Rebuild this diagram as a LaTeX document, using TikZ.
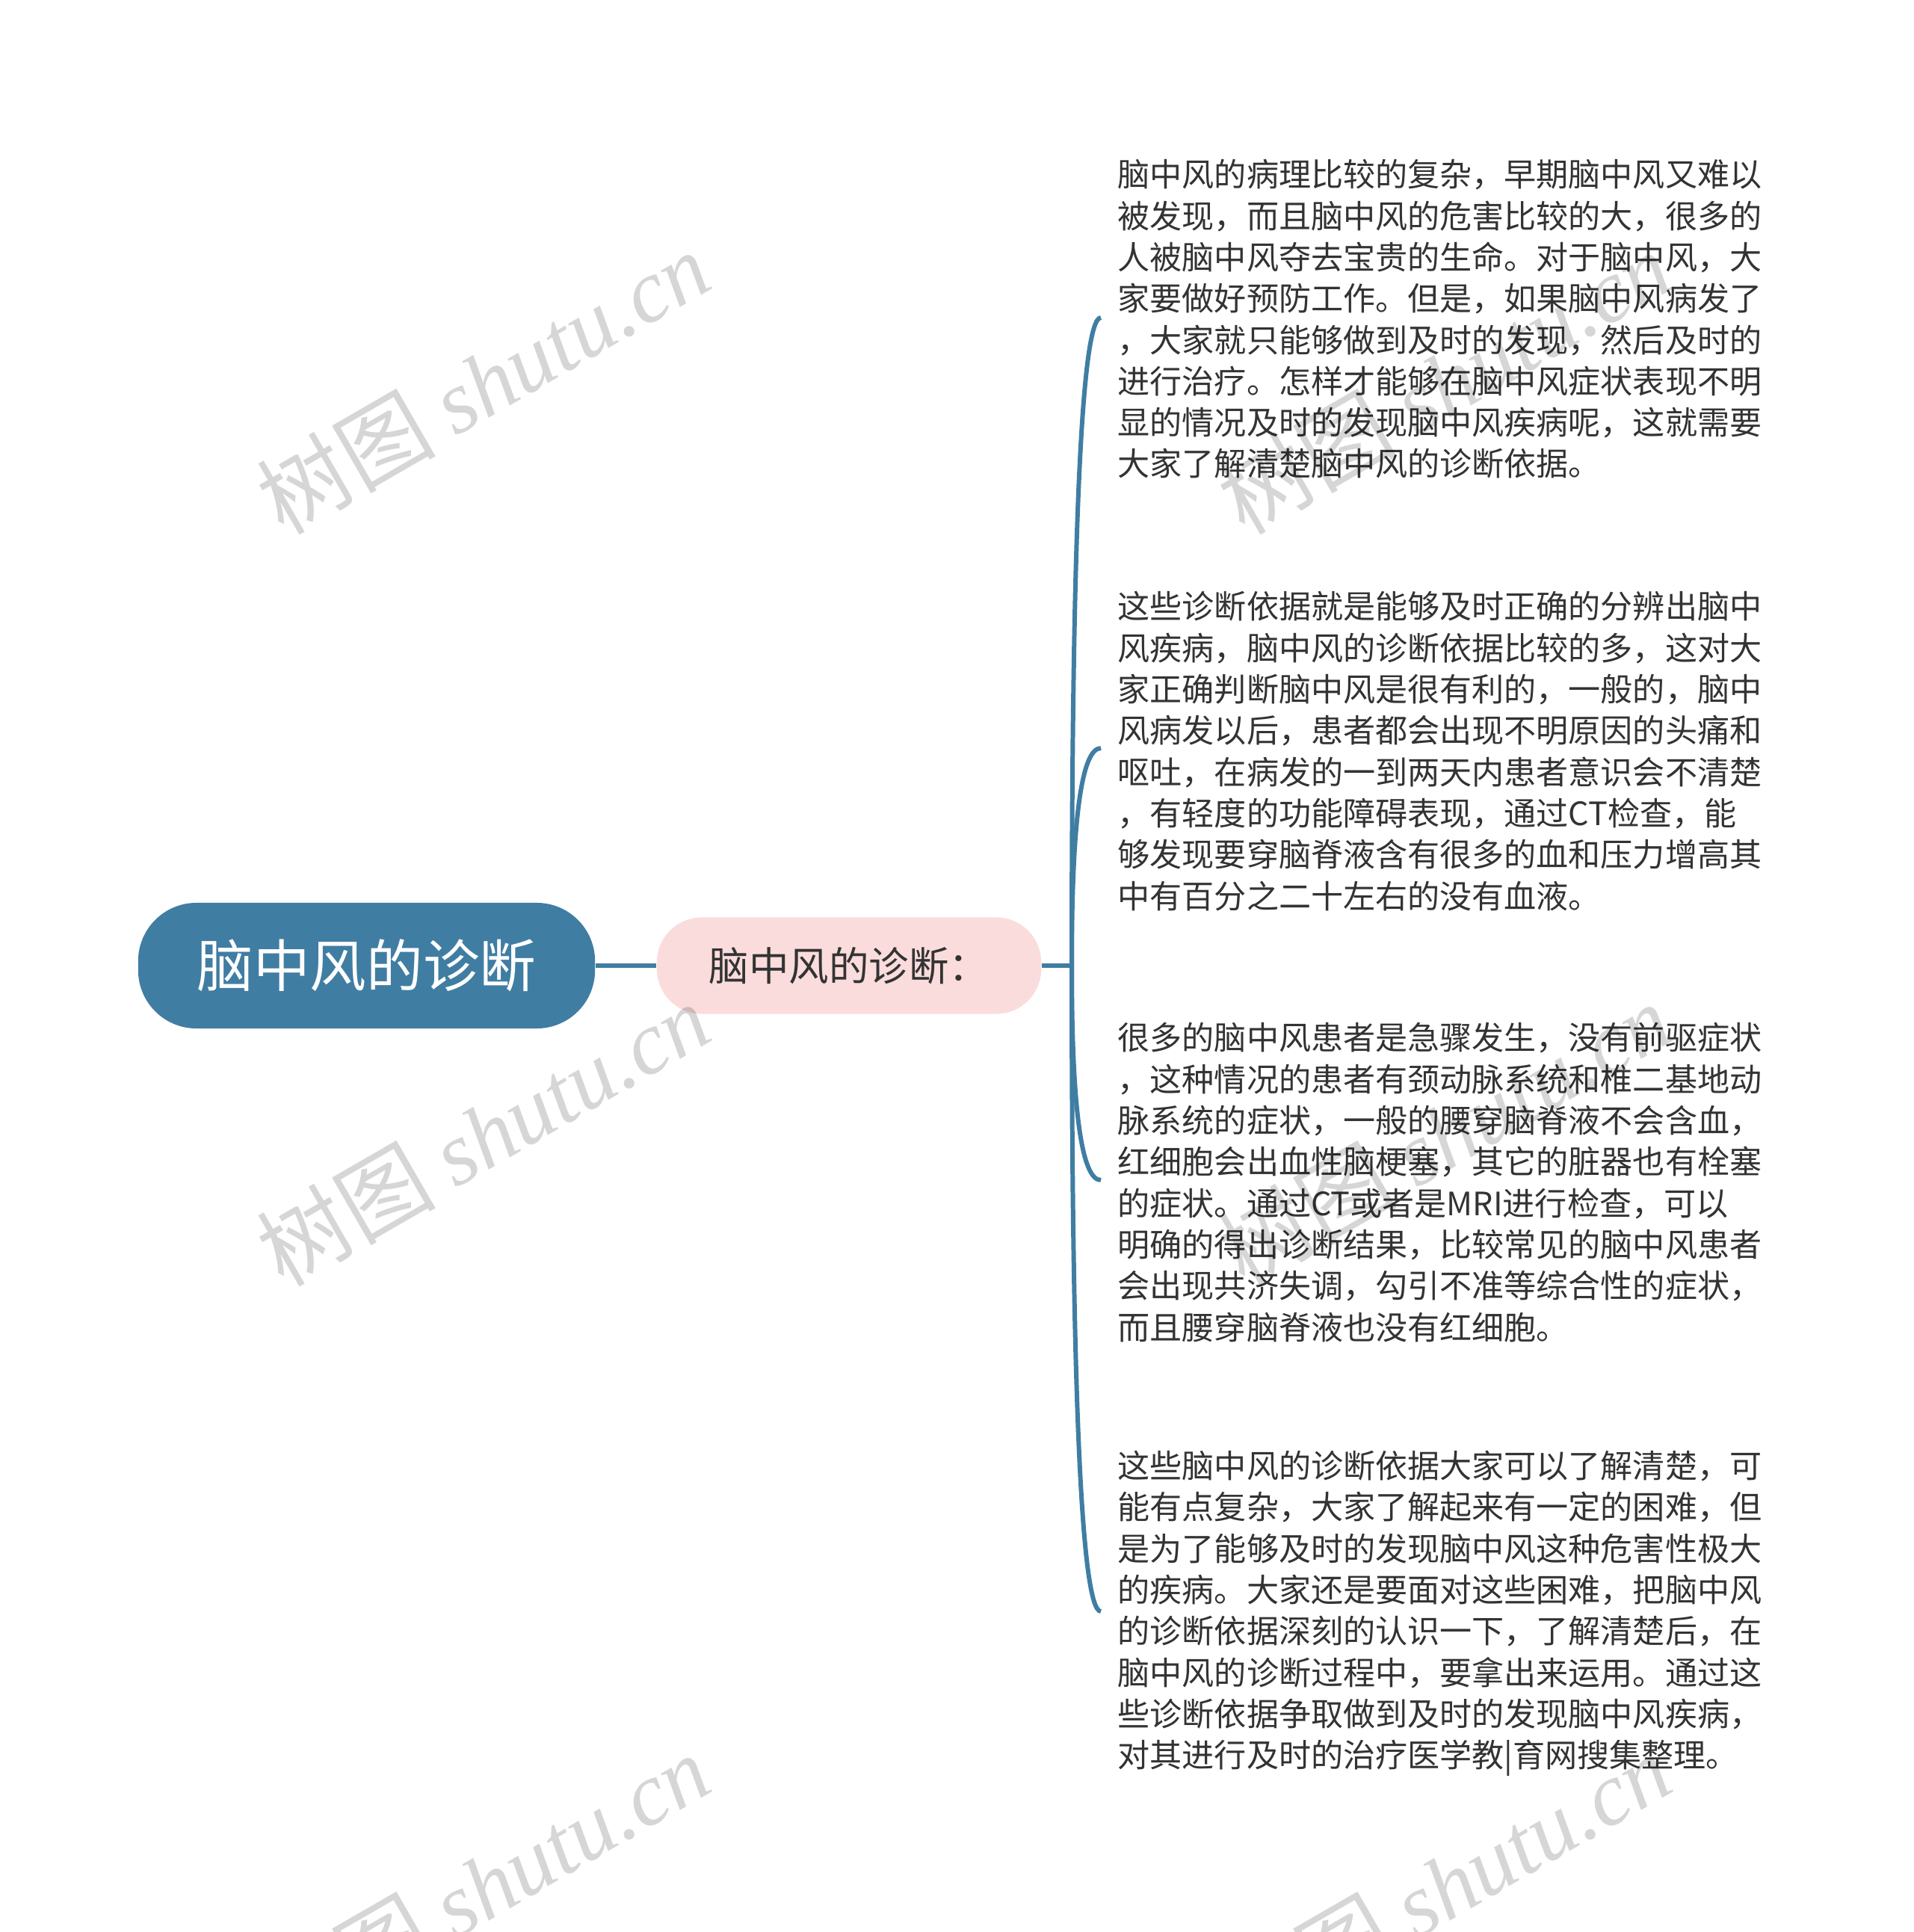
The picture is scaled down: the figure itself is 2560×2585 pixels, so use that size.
\documentclass[tikz,border=0pt]{standalone}
\usepackage{fontspec}
\setmainfont{Noto Sans CJK SC}
\newfontfamily\wmlat{Liberation Serif}
\usetikzlibrary{calc}
\definecolor{rootblue}{RGB}{64,125,163}
\definecolor{subpink}{RGB}{251,220,220}
\definecolor{txt}{RGB}{51,51,51}
\tikzset{
  x=0.01cm, y=-0.01cm,
  rootnode/.style={fill=rootblue, text=white, rounded corners=0.78cm,
    minimum width=6.11cm, minimum height=1.68cm, inner sep=0pt,
    font={\fontsize{21.5}{26}\selectfont}},
  subnode/.style={fill=subpink, text=txt, rounded corners=0.6cm,
    minimum width=5.14cm, minimum height=1.29cm, inner sep=0pt,
    font={\fontsize{15.2}{18}\selectfont}},
  leaf/.style={anchor=west, align=left, inner sep=0pt, text=txt,
    font={\fontsize{12.25}{15.73}\selectfont}},
  link/.style={draw=rootblue, line width=1.7pt},
  wm/.style={rotate=30, text=black, text opacity=0.16, inner sep=0pt,
    font={\fontsize{34}{40}\selectfont}}
}
\begin{document}
\begin{tikzpicture}
\useasboundingbox (0,0) rectangle (2560,2585);
\fill[white] (0,0) rectangle (2560,2585);

\node[rootnode] (root) at (490.5,1292) {脑中风的诊断};
\node[subnode] (sub) at (1136,1292) {脑中风的诊断：};
\coordinate (j) at (1434,1292);

\coordinate (t1) at (1473,425);
\coordinate (t2) at (1473,1001);
\coordinate (t3) at (1473,1579);
\coordinate (t4) at (1473,2156);

\draw[link] (root.east) -- (sub.west);
\draw[link] (sub.east) -- (j);
\foreach \t in {t1,t2,t3,t4}{
  \draw[link] (j) .. controls ($(j)!0.667!(j|-\t)$) and ($(\t)!0.667!(j|-\t)$) .. (\t);
}

\node[leaf] (l1) at (1495,427) {脑中风的病理比较的复杂，早期脑中风又难以\\
被发现，而且脑中风的危害比较的大，很多的\\
人被脑中风夺去宝贵的生命。对于脑中风，大\\
家要做好预防工作。但是，如果脑中风病发了\\
，大家就只能够做到及时的发现，然后及时的\\
进行治疗。怎样才能够在脑中风症状表现不明\\
显的情况及时的发现脑中风疾病呢，这就需要\\
大家了解清楚脑中风的诊断依据。};

\node[leaf] (l2) at (1495,1005) {这些诊断依据就是能够及时正确的分辨出脑中\\
风疾病，脑中风的诊断依据比较的多，这对大\\
家正确判断脑中风是很有利的，一般的，脑中\\
风病发以后，患者都会出现不明原因的头痛和\\
呕吐，在病发的一到两天内患者意识会不清楚\\
，有轻度的功能障碍表现，通过CT检查，能\\
够发现要穿脑脊液含有很多的血和压力增高其\\
中有百分之二十左右的没有血液。};

\node[leaf] (l3) at (1495,1582) {很多的脑中风患者是急骤发生，没有前驱症状\\
，这种情况的患者有颈动脉系统和椎二基地动\\
脉系统的症状，一般的腰穿脑脊液不会含血，\\
红细胞会出血性脑梗塞，其它的脏器也有栓塞\\
的症状。通过CT或者是MRI进行检查，可以\\
明确的得出诊断结果，比较常见的脑中风患者\\
会出现共济失调，勾引不准等综合性的症状，\\
而且腰穿脑脊液也没有红细胞。};

\node[leaf] (l4) at (1495,2159) {这些脑中风的诊断依据大家可以了解清楚，可\\
能有点复杂，大家了解起来有一定的困难，但\\
是为了能够及时的发现脑中风这种危害性极大\\
的疾病。大家还是要面对这些困难，把脑中风\\
的诊断依据深刻的认识一下，了解清楚后，在\\
脑中风的诊断过程中，要拿出来运用。通过这\\
些诊断依据争取做到及时的发现脑中风疾病，\\
对其进行及时的治疗医学教|育网搜集整理。};

\foreach \wx/\wy [count=\i] in {646/511,646/1517,646/2522,1932/511,1932/1517,1932/2522}{
  \node[wm] (wm\i) at (\wx,\wy) {树图 {\wmlat\itshape shutu.cn}};
}
\end{tikzpicture}
\end{document}
